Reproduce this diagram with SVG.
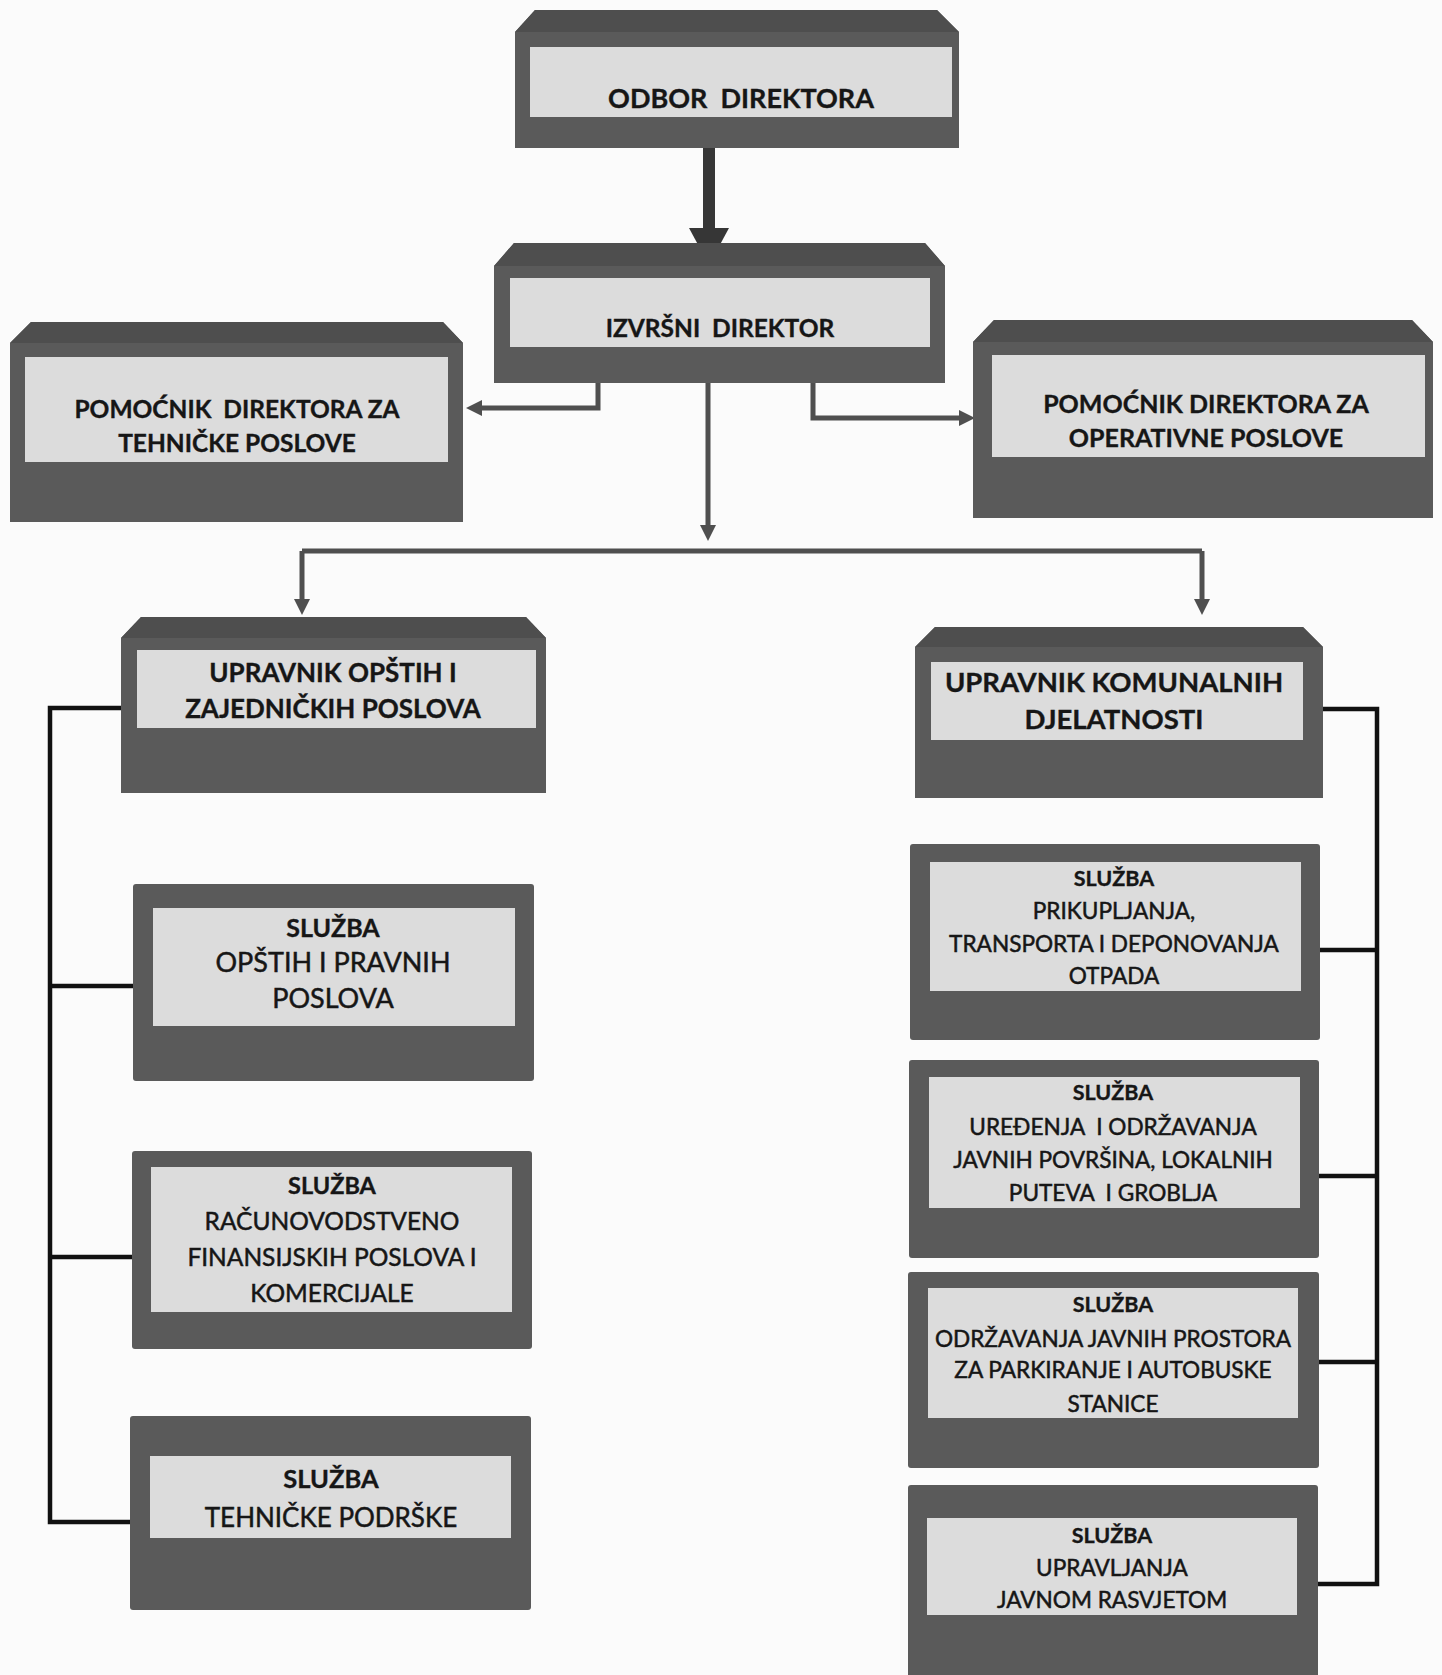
<svg xmlns="http://www.w3.org/2000/svg" width="1442" height="1675" viewBox="0 0 1442 1675">
<defs>
<style>
.bg{fill:#fbfbfb}
.dark{fill:#5a5a5a}
.band{fill:#4e4e4e}
.inner{fill:#dcdcdc}
.t{font-family:Lato,"Liberation Sans",sans-serif;fill:#161616;stroke:#161616;stroke-width:0.5;text-anchor:middle}
.b{font-weight:bold;stroke-width:0.35}
.conn{stroke:#4f4f4f;stroke-width:5;fill:none}
.br{stroke:#111111;stroke-width:4.5;fill:none}
.thick{fill:#363636}
</style>
<marker id="ah" viewBox="0 0 10 10" markerUnits="userSpaceOnUse" markerWidth="16" markerHeight="16" refX="5" refY="5" orient="auto">
<path d="M0,0 L10,5 L0,10 z" fill="#4f4f4f"/>
</marker>
</defs>
<rect class="bg" x="0" y="0" width="1442" height="1675"/>

<g id="connectors">
<rect class="thick" x="703" y="146" width="12" height="84"/>
<polygon class="thick" points="689,228 729,228 709,265"/>
<path class="conn" d="M598,383 V408 H474" marker-end="url(#ah)"/>
<path class="conn" d="M813,383 V418 H967" marker-end="url(#ah)"/>
<path class="conn" d="M708,383 V533" marker-end="url(#ah)"/>
<path class="conn" d="M302,551 H1202"/>
<path class="conn" d="M302,551 V607" marker-end="url(#ah)"/>
<path class="conn" d="M1202,551 V607" marker-end="url(#ah)"/>
<path class="br" d="M121,708 H50 V1522 H130"/>
<path class="br" d="M50,986 H133"/>
<path class="br" d="M50,1257 H132"/>
<path class="br" d="M1323,709 H1377 V1584 H1318"/>
<path class="br" d="M1320,950 H1377"/>
<path class="br" d="M1319,1176 H1377"/>
<path class="br" d="M1319,1362 H1377"/>
</g>

<g id="odbor">
<polygon class="dark" points="535,10 937,10 959,32 959,148 515,148 515,32"/>
<polygon class="band" points="535,10 937,10 959,32 515,32"/>
<rect class="inner" x="530" y="47" width="422" height="70"/>
<text class="t b" x="741" y="108" font-size="27" xml:space="preserve">ODBOR  DIREKTORA</text>
</g>

<g id="izvrsni">
<polygon class="dark" points="514,243 925,243 945,266 945,383 494,383 494,266"/>
<polygon class="band" points="514,243 925,243 945,266 494,266"/>
<rect class="inner" x="510" y="278" width="420" height="69"/>
<text class="t b" x="720" y="337" font-size="24.5" xml:space="preserve">IZVRŠNI  DIREKTOR</text>
</g>

<g id="pomocnik-tehnicki">
<polygon class="dark" points="31,322 443,322 463,343 463,522 10,522 10,343"/>
<polygon class="band" points="31,322 443,322 463,343 10,343"/>
<rect class="inner" x="25" y="357" width="423" height="105"/>
<text class="t b" x="237" y="418" font-size="24.5" xml:space="preserve">POMOĆNIK  DIREKTORA ZA</text>
<text class="t b" x="237" y="452" font-size="24.5">TEHNIČKE POSLOVE</text>
</g>

<g id="pomocnik-operativni">
<polygon class="dark" points="994,320 1412,320 1433,342 1433,518 973,518 973,342"/>
<polygon class="band" points="994,320 1412,320 1433,342 973,342"/>
<rect class="inner" x="992" y="355" width="433" height="102"/>
<text class="t b" x="1206" y="413" font-size="25">POMOĆNIK DIREKTORA ZA</text>
<text class="t b" x="1206" y="447" font-size="25">OPERATIVNE POSLOVE</text>
</g>

<g id="upravnik-opstih">
<polygon class="dark" points="141,617 526,617 546,638 546,793 121,793 121,638"/>
<polygon class="band" points="141,617 526,617 546,638 121,638"/>
<rect class="inner" x="137" y="650" width="399" height="78"/>
<text class="t b" x="333" y="682" font-size="26">UPRAVNIK OPŠTIH I</text>
<text class="t b" x="333" y="718" font-size="26">ZAJEDNIČKIH POSLOVA</text>
</g>

<g id="upravnik-komunalnih">
<polygon class="dark" points="935,627 1303,627 1323,647 1323,798 915,798 915,647"/>
<polygon class="band" points="935,627 1303,627 1323,647 915,647"/>
<rect class="inner" x="931" y="662" width="372" height="78"/>
<text class="t b" x="1114" y="692" font-size="27.5">UPRAVNIK KOMUNALNIH</text>
<text class="t b" x="1114" y="729" font-size="27.5">DJELATNOSTI</text>
</g>

<g id="sluzba-opstih">
<rect class="dark" x="133" y="884" width="401" height="197" rx="3"/>
<rect class="inner" x="153" y="908" width="362" height="118"/>
<text class="t b" x="333" y="937" font-size="25">SLUŽBA</text>
<text class="t" x="333" y="972" font-size="27">OPŠTIH I PRAVNIH</text>
<text class="t" x="333" y="1008" font-size="27">POSLOVA</text>
</g>

<g id="sluzba-racunovodstvo">
<rect class="dark" x="132" y="1151" width="400" height="198" rx="3"/>
<rect class="inner" x="151" y="1167" width="361" height="145"/>
<text class="t b" x="332" y="1194" font-size="23.5">SLUŽBA</text>
<text class="t" x="332" y="1230" font-size="24.5">RAČUNOVODSTVENO</text>
<text class="t" x="332" y="1266" font-size="24.5">FINANSIJSKIH POSLOVA I</text>
<text class="t" x="332" y="1302" font-size="24.5">KOMERCIJALE</text>
</g>

<g id="sluzba-tehnicke">
<rect class="dark" x="130" y="1416" width="401" height="194" rx="3"/>
<rect class="inner" x="150" y="1456" width="361" height="82"/>
<text class="t b" x="331" y="1488" font-size="25.5">SLUŽBA</text>
<text class="t" x="331" y="1527" font-size="26">TEHNIČKE PODRŠKE</text>
</g>

<g id="sluzba-prikupljanja">
<rect class="dark" x="910" y="844" width="410" height="196" rx="3"/>
<rect class="inner" x="930" y="862" width="371" height="129"/>
<text class="t b" x="1114" y="886" font-size="21.5">SLUŽBA</text>
<text class="t" x="1114" y="919" font-size="22.6">PRIKUPLJANJA,</text>
<text class="t" x="1114" y="952" font-size="22.6">TRANSPORTA I DEPONOVANJA</text>
<text class="t" x="1114" y="984" font-size="22.6">OTPADA</text>
</g>

<g id="sluzba-uredjenja">
<rect class="dark" x="909" y="1060" width="410" height="198" rx="3"/>
<rect class="inner" x="929" y="1077" width="371" height="131"/>
<text class="t b" x="1113" y="1100" font-size="21.5">SLUŽBA</text>
<text class="t" x="1113" y="1135" font-size="22.6" xml:space="preserve">UREĐENJA  I ODRŽAVANJA</text>
<text class="t" x="1113" y="1168" font-size="22.6">JAVNIH POVRŠINA, LOKALNIH</text>
<text class="t" x="1113" y="1201" font-size="22.6" xml:space="preserve">PUTEVA  I GROBLJA</text>
</g>

<g id="sluzba-odrzavanja">
<rect class="dark" x="908" y="1272" width="411" height="196" rx="3"/>
<rect class="inner" x="928" y="1288" width="370" height="130"/>
<text class="t b" x="1113" y="1312" font-size="21.5">SLUŽBA</text>
<text class="t" x="1113" y="1347" font-size="22.6">ODRŽAVANJA JAVNIH PROSTORA</text>
<text class="t" x="1113" y="1378" font-size="22.6">ZA PARKIRANJE I AUTOBUSKE</text>
<text class="t" x="1113" y="1412" font-size="22.6">STANICE</text>
</g>

<g id="sluzba-rasvjeta">
<rect class="dark" x="908" y="1485" width="410" height="200" rx="3"/>
<rect class="inner" x="927" y="1518" width="370" height="97"/>
<text class="t b" x="1112" y="1543" font-size="21.5">SLUŽBA</text>
<text class="t" x="1112" y="1576" font-size="22.6">UPRAVLJANJA</text>
<text class="t" x="1112" y="1608" font-size="22.6">JAVNOM RASVJETOM</text>
</g>
</svg>
